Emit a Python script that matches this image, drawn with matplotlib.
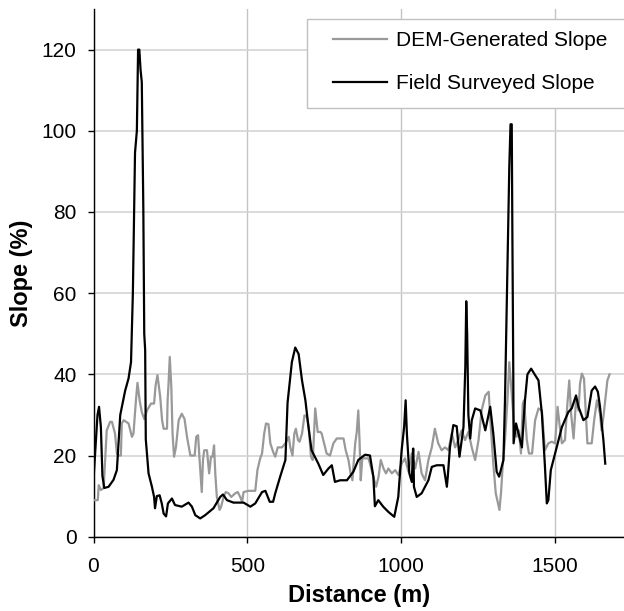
import matplotlib
matplotlib.use("Agg")
import matplotlib.pyplot as plt
from matplotlib.patches import Rectangle

plt.rcParams['font.family'] = ['Liberation Sans', 'DejaVu Sans']

# DEM-generated slope (gray)
dem_x = [0, 14, 17, 24, 33, 38, 43, 54, 60, 70, 76, 81, 89, 92, 98, 114, 125, 130, 138, 143,
         150, 157, 165, 174, 187, 197, 202, 208, 217, 223, 228, 239, 241, 244, 248, 253, 257, 262,
         268, 277, 287, 296, 304, 315, 329, 334, 340, 345, 352, 356, 360, 369, 376, 382, 387, 392,
         396, 401, 410, 415, 423, 430, 439, 448, 461, 469, 477, 483, 488, 504, 526, 533, 542, 548,
         555, 561, 569, 575, 584, 591, 599, 613, 624, 635, 640, 647, 653, 658, 665, 670, 678, 686,
         694, 700, 707, 713, 721, 729, 738, 742, 758, 769, 780, 791, 813, 820, 829, 836, 842, 845,
         851, 856, 861, 865, 869, 874, 894, 899, 913, 919, 927, 934, 943, 951, 959, 970, 981, 991,
         1002, 1013, 1024, 1035, 1046, 1057, 1067, 1078, 1089, 1100, 1110, 1121, 1132, 1143, 1154,
         1165, 1176, 1186, 1197, 1208, 1219, 1230, 1241, 1252, 1262, 1274, 1285, 1292, 1300, 1308,
         1313, 1320, 1325, 1331, 1338, 1346, 1352, 1360, 1368, 1376, 1383, 1390, 1396, 1400, 1409,
         1416, 1426, 1436, 1447, 1458, 1468, 1479, 1490, 1501, 1509, 1515, 1523, 1533, 1541, 1547,
         1553, 1561, 1569, 1577, 1582, 1588, 1595, 1602, 1606, 1620, 1628, 1637, 1647, 1652, 1658,
         1664, 1671, 1678]
dem_y = [9, 9, 12.7, 11.5, 12, 18.9, 26.2, 28.3, 28.3, 25.4, 20.5, 20, 20, 27.9, 28.7, 27.9, 24.6,
         25.4, 33.6, 37.9, 33.6, 30.7, 29, 31.1, 32.8, 32.8, 37.3, 39.8, 34.4, 28.7, 26.6, 26.6, 33.6,
         37.7, 44.3, 36.9, 25.4, 19.7, 22, 28.7, 30.3, 29, 24.6, 20, 20, 24.6, 25, 18.9, 11, 18.9, 21.3,
         21.3, 15.6, 19.7, 19.7, 22.5, 15.6, 9.8, 6.6, 7.4, 9.8, 11, 10.7, 9.8, 10.7, 11, 9.8, 8.6, 11,
         11.3, 11.3, 16.4, 19.3, 20.5, 25.4, 27.9, 27.7, 23, 20.9, 19.7, 22, 22, 23, 24.6, 22, 20, 25.4,
         26.6, 23.8, 23.4, 25.4, 29.9, 29.5, 27, 19.7, 18.9, 31.6, 25.8, 25.8, 25.4, 20.5, 20, 23, 24.2,
         24.2, 21.3, 18.9, 15.6, 13.9, 17.2, 23, 25.8, 31.1, 23.8, 13.9, 19.3, 19.3, 18, 13.9, 12.3,
         14.8, 18.9, 16.8, 15.6, 16.8, 15.6, 16.4, 15.2, 18, 19.3, 16, 20.5, 16.8, 20.9, 15.6, 13.9,
         18.9, 22, 26.6, 23, 21.3, 22, 21.3, 25.4, 22, 23.8, 26.2, 23.8, 25.8, 22, 18.9, 23.8, 31.1,
         34.8, 35.7, 27, 18, 10.7, 9, 6.6, 10.7, 18, 23.8, 33.6, 43, 35.2, 27, 24.6, 26.2, 20.5, 32.8,
         33.6, 23.8, 20.5, 20.5, 28.7, 31.6, 31.1, 21.3, 23, 23.4, 23, 32, 27.9, 23, 23.8, 32.8, 38.5,
         30.3, 24.2, 33.6, 31.1, 37.7, 40.2, 38.9, 28.7, 23, 23, 28.7, 33.6, 30.3, 26.2, 29.5, 33.6,
         38.5, 40]

# Field surveyed slope (black)
fld_x = [0, 13, 18, 24, 29, 35, 49, 65, 76, 87, 103, 114, 122, 128, 135, 141, 145, 149, 153, 157,
         162, 165, 168, 170, 179, 190, 197, 200, 206, 215, 222, 228, 236, 242, 255, 265, 287, 309,
         320, 331, 347, 363, 390, 412, 421, 434, 455, 488, 510, 526, 548, 559, 573, 584, 591, 607,
         624, 631, 645, 656, 667, 678, 689, 699, 709, 731, 747, 764, 775, 785, 802, 824, 845, 861,
         883, 899, 910, 915, 926, 942, 959, 978, 991, 1002, 1010, 1015, 1019, 1027, 1035, 1039, 1040,
         1042, 1051, 1067, 1089, 1100, 1116, 1138, 1149, 1152, 1159, 1170, 1181, 1190, 1203, 1209,
         1212, 1215, 1219, 1225, 1230, 1241, 1258, 1274, 1290, 1300, 1311, 1319, 1333, 1338, 1344,
         1352, 1356, 1360, 1362, 1365, 1366, 1374, 1382, 1393, 1403, 1411, 1423, 1436, 1447, 1458,
         1468, 1474, 1479, 1487, 1501, 1523, 1544, 1555, 1569, 1577, 1593, 1606, 1620, 1631, 1640,
         1647, 1658, 1664]
fld_y = [14, 30, 32, 27, 15, 12, 12.3, 14, 16.4, 30, 36, 39, 43, 60, 94.6, 100, 120, 120, 115, 112,
         81, 50, 46, 24, 15.6, 12.3, 9.8, 7, 10, 10.2, 8.2, 5.7, 5, 8.2, 9.4, 7.8, 7.4, 8.4, 7.4, 5.3,
         4.5, 5.3, 7, 9.8, 10.4, 9, 8.4, 8.4, 7.4, 8.2, 11, 11.3, 8.6, 8.6, 10.7, 14.8, 18.9, 33, 43,
         46.6, 45, 38.5, 33.6, 27, 21.3, 18, 15.2, 16.8, 17.6, 13.5, 13.9, 13.9, 16, 18.9, 20.2, 20,
         14.8, 7.5, 9, 7.4, 6.1, 4.9, 9.8, 21.3, 27, 33.6, 25.4, 15.6, 13.5, 21.7, 21.7, 12.3, 9.8,
         10.7, 13.9, 17.2, 17.6, 17.6, 12.3, 14.8, 22, 27.5, 27.2, 19.7, 27, 41.8, 58, 50, 30, 24.2,
         28.7, 31.6, 31.1, 26.2, 32, 25.4, 16, 14.8, 18.9, 33.6, 58, 91, 101.6, 101.6, 75, 40, 23,
         27.9, 25.4, 22, 33.6, 40, 41.4, 39.8, 38.5, 30.3, 17.2, 8.2, 9, 16.4, 20.5, 27, 30.7, 31.6,
         34.8, 32, 28.7, 29.5, 36, 37, 35.7, 32, 23.8, 18]

x_ticks = [0, 500, 1000, 1500]
y_ticks = [0, 20, 40, 60, 80, 100, 120]

W, H = 624, 611
fig = plt.figure(figsize=(W / 100, H / 100), dpi=100)
ax = fig.add_axes([93.5 / W, 1 - 536.7 / H, (W - 93.5) / W, (536.7 - 9) / H])

ax.plot(dem_x, dem_y, color='#999999', lw=1.6, label='DEM-Generated Slope', zorder=3)
ax.plot(fld_x, fld_y, color='black', lw=1.6, label='Field Surveyed Slope', zorder=4)

ax.set_xlim(0, 1725)
ax.set_ylim(0, 130)
ax.set_xticks(x_ticks)
ax.set_yticks(y_ticks)
ax.grid(True, axis='y', color='#d4d4d4', lw=1.2)
ax.grid(True, axis='x', color='#c4c4c4', lw=1.0)
ax.set_axisbelow(True)
for s in ['top', 'right']:
    ax.spines[s].set_visible(False)
for s in ['left', 'bottom']:
    ax.spines[s].set_color('black')
    ax.spines[s].set_linewidth(1.0)
ax.tick_params(axis='both', labelsize=15, length=4.3, width=1, direction='out', colors='black')
ax.tick_params(axis='x', pad=10)
ax.tick_params(axis='y', pad=8)

ax.set_xlabel('Distance (m)', fontsize=17, fontweight='bold', labelpad=6)
ax.set_ylabel('Slope (%)', fontsize=17, fontweight='bold', labelpad=6)

# legend frame (drawn separately to match the reference's padding)
frame = Rectangle((307 / W, 1 - 108 / H), (W + 10 - 307) / W, 89 / H,
                  transform=fig.transFigure, facecolor='white',
                  edgecolor='#c0c0c0', lw=1.0, zorder=5, clip_on=False)
ax.add_patch(frame)
leg = ax.legend(loc='upper left', bbox_to_anchor=(333 / W, 1 - 31 / H),
                bbox_transform=fig.transFigure, fontsize=15, frameon=False,
                handlelength=2.6, labelspacing=1.15, borderpad=0, borderaxespad=0,
                handletextpad=0.4)
leg.set_zorder(6)

fig.savefig('out.png', dpi=100)
